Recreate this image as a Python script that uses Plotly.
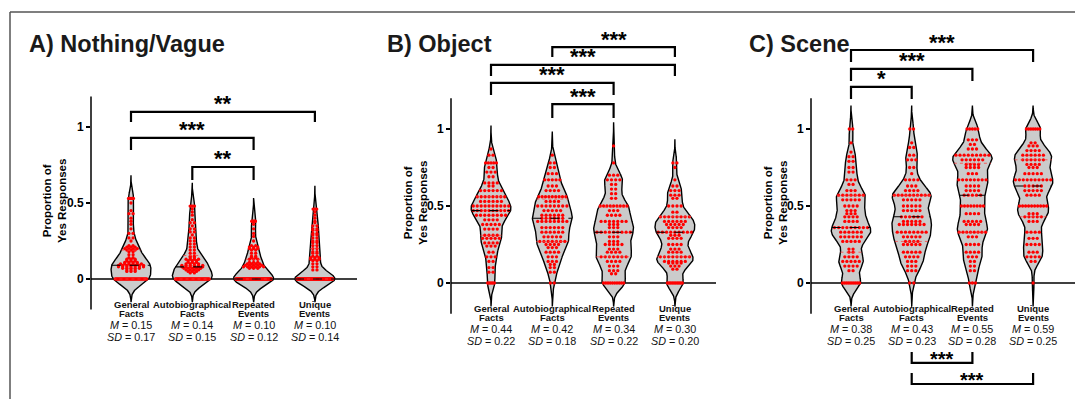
import numpy as np
import plotly.graph_objects as go

# ---------------- data ----------------
category_names = ["General Facts", "Autobiographical Facts", "Repeated Events", "Unique Events"]
panel_titles = ["A) Nothing/Vague", "B) Object", "C) Scene"]

nothing_means = ["0.15", "0.14", "0.10", "0.10"]
nothing_sds = ["0.17", "0.15", "0.12", "0.14"]
object_means = ["0.44", "0.42", "0.34", "0.30"]
object_sds = ["0.22", "0.18", "0.22", "0.20"]
scene_means = ["0.38", "0.43", "0.55", "0.59"]
scene_sds = ["0.25", "0.23", "0.28", "0.25"]

# proportion of yes responses -> number of participants
nothing_general = {0: 32, 0.05: 3, 0.06: 3, 0.07: 5, 0.08: 7, 0.09: 7, 0.1: 6, 0.11: 4, 0.12: 3, 0.13: 3,
                   0.14: 2, 0.16: 2, 0.18: 2, 0.19: 3, 0.2: 4, 0.21: 3, 0.22: 2, 0.25: 1, 0.27: 2, 0.3: 2,
                   0.33: 1, 0.36: 1, 0.38: 1, 0.4: 1, 0.43: 2, 0.45: 1, 0.5: 1, 0.53: 5}
nothing_autobio = {0: 40, 0.04: 2, 0.05: 3, 0.06: 4, 0.07: 5, 0.08: 6, 0.09: 6, 0.1: 4, 0.11: 3, 0.12: 3,
                   0.13: 4, 0.14: 2, 0.15: 2, 0.17: 2, 0.19: 2, 0.21: 2, 0.23: 2, 0.25: 2, 0.27: 2, 0.29: 1,
                   0.31: 2, 0.33: 2, 0.35: 1, 0.37: 2, 0.39: 1, 0.42: 1, 0.44: 1, 0.46: 1, 0.48: 4}
nothing_repeated = {0: 60, 0.07: 3, 0.08: 6, 0.09: 5, 0.1: 4, 0.11: 3, 0.13: 3, 0.14: 2, 0.15: 2, 0.17: 2,
                    0.19: 2, 0.2: 3, 0.21: 3, 0.22: 2, 0.25: 1, 0.28: 1, 0.3: 1, 0.33: 1, 0.36: 1, 0.38: 5}
nothing_unique = {0: 62, 0.06: 2, 0.08: 2, 0.1: 2, 0.12: 2, 0.13: 3, 0.14: 3, 0.15: 2, 0.17: 2, 0.18: 2,
                  0.2: 2, 0.22: 2, 0.24: 2, 0.25: 2, 0.27: 2, 0.29: 2, 0.3: 2, 0.32: 2, 0.33: 2, 0.35: 2,
                  0.37: 1, 0.38: 1, 0.4: 1, 0.42: 1, 0.44: 1, 0.46: 4}

object_general = {0: 5, 0.07: 2, 0.1: 2, 0.14: 2, 0.17: 3, 0.2: 2, 0.24: 3, 0.26: 4, 0.29: 5, 0.31: 4,
                  0.35: 4, 0.38: 5, 0.41: 4, 0.44: 8, 0.47: 10, 0.5: 10, 0.53: 6, 0.56: 8, 0.6: 6, 0.63: 2,
                  0.65: 4, 0.69: 2, 0.72: 3, 0.75: 2, 0.78: 5, 0.83: 2, 0.87: 1}
object_autobio = {0: 2, 0.07: 2, 0.1: 2, 0.12: 2, 0.14: 3, 0.17: 3, 0.2: 4, 0.23: 3, 0.25: 4, 0.27: 7,
                  0.3: 5, 0.33: 6, 0.36: 6, 0.4: 8, 0.42: 6, 0.44: 6, 0.47: 5, 0.5: 8, 0.53: 4, 0.56: 9,
                  0.6: 4, 0.63: 3, 0.67: 5, 0.71: 3, 0.75: 2, 0.78: 2, 0.83: 1}
object_repeated = {0: 10, 0.06: 2, 0.08: 3, 0.11: 3, 0.14: 4, 0.17: 7, 0.2: 4, 0.22: 3, 0.25: 5, 0.27: 3,
                   0.3: 3, 0.33: 9, 0.36: 3, 0.38: 3, 0.4: 7, 0.44: 4, 0.47: 3, 0.5: 9, 0.55: 2, 0.58: 2,
                   0.61: 2, 0.64: 2, 0.67: 4, 0.7: 3, 0.78: 1, 0.89: 1}
object_unique = {0: 10, 0.09: 2, 0.11: 3, 0.13: 4, 0.14: 6, 0.17: 8, 0.2: 4, 0.22: 3, 0.25: 4, 0.29: 4,
                 0.31: 3, 0.33: 9, 0.36: 4, 0.38: 5, 0.4: 6, 0.43: 8, 0.46: 2, 0.5: 4, 0.55: 2, 0.57: 3,
                 0.6: 3, 0.63: 2, 0.67: 1, 0.75: 1, 0.78: 2}

scene_general = {0: 10, 0.08: 2, 0.11: 4, 0.14: 5, 0.17: 4, 0.2: 2, 0.22: 2, 0.27: 5, 0.3: 6, 0.33: 6,
                 0.36: 9, 0.4: 4, 0.43: 4, 0.45: 3, 0.47: 3, 0.5: 4, 0.54: 5, 0.57: 7, 0.6: 3, 0.64: 2,
                 0.67: 3, 0.72: 2, 0.75: 2, 0.79: 2, 0.82: 2, 0.85: 1, 0.91: 1, 1.0: 2}
scene_autobio = {0: 2, 0.08: 3, 0.11: 3, 0.14: 3, 0.17: 4, 0.2: 5, 0.25: 5, 0.27: 4, 0.3: 5, 0.33: 8,
                 0.38: 7, 0.4: 5, 0.43: 6, 0.47: 5, 0.5: 5, 0.54: 5, 0.57: 10, 0.6: 4, 0.63: 3, 0.67: 4,
                 0.71: 1, 0.75: 2, 0.8: 3, 0.83: 2, 0.88: 2, 0.91: 1, 1.0: 2}
scene_repeated = {0: 3, 0.08: 2, 0.11: 2, 0.14: 2, 0.17: 3, 0.2: 4, 0.25: 4, 0.3: 3, 0.33: 8, 0.38: 4,
                  0.4: 5, 0.45: 4, 0.5: 8, 0.57: 5, 0.6: 4, 0.63: 4, 0.67: 8, 0.71: 3, 0.75: 4, 0.77: 4,
                  0.8: 6, 0.83: 9, 0.87: 3, 0.9: 2, 0.93: 3, 1.0: 5}
scene_unique = {0: 1, 0.14: 2, 0.17: 4, 0.2: 3, 0.25: 4, 0.29: 3, 0.33: 4, 0.4: 3, 0.43: 5, 0.45: 3,
                0.5: 10, 0.57: 4, 0.6: 5, 0.63: 5, 0.67: 10, 0.71: 5, 0.75: 3, 0.77: 4, 0.8: 6, 0.83: 6,
                0.86: 4, 0.89: 3, 0.91: 2, 1.0: 7}

# significance comparisons (category index pairs)
nothing_sig = [(0, 3, "**"), (0, 2, "***"), (1, 2, "**")]
object_sig = [(1, 3, "***"), (0, 3, "***"), (0, 2, "***"), (1, 2, "***")]
scene_sig = [(0, 3, "***"), (0, 2, "***"), (0, 1, "*"), (1, 2, "***"), (1, 3, "***")]

# ---------------- layout config ----------------
VW, VH = 1083, 399          # browser viewport
OFF = 8                     # page body margin
WF, HF = VW - OFF, VH - OFF # figure size so it fits the viewport
FONT = "Arial, 'Liberation Sans', Helvetica, sans-serif"
BW = 0.045          # KDE bandwidth
HALF = 0.325        # max violin half width (category units)
DX = 0.068          # dot spacing (category units)
VIOLIN_FILL = "#cbcbcb"
DOT = "#ff0000"


def pxx(x):
    return (x - OFF) / WF


def pxy(y):
    return 1 - (y - OFF) / HF


panels = [
    dict(groups=[nothing_general, nothing_autobio, nothing_repeated, nothing_unique],
         means=nothing_means, sds=nothing_sds, sig=nothing_sig,
         levels=[(1.099, 1.033), (0.928, 0.849), (0.737, 0.651)],
         x_axis=91, x_end=357, x_first=131, step=61.3, y_zero=279, px_unit=152,
         title_x=27, title_y=44, ytitle_x=55, ytitle_y=201),
    dict(groups=[object_general, object_autobio, object_repeated, object_unique],
         means=object_means, sds=object_sds, sig=object_sig,
         levels=[(1.532, 1.468), (1.416, 1.344), (1.299, 1.221), (1.162, 1.071)],
         x_axis=451, x_end=716, x_first=491, step=61.3, y_zero=283, px_unit=154,
         title_x=385, title_y=44, ytitle_x=415, ytitle_y=203),
    dict(groups=[scene_general, scene_autobio, scene_repeated, scene_unique],
         means=scene_means, sds=scene_sds, sig=scene_sig,
         levels=[(1.513, 1.435), (1.39, 1.312), (1.273, 1.195), (-0.519, -0.448), (-0.656, -0.584)],
         x_axis=811, x_end=1076, x_first=851, step=60.7, y_zero=283, px_unit=154,
         title_x=747, title_y=44, ytitle_x=775, ytitle_y=203),
]


def kde(values, grid):
    return np.exp(-0.5 * ((grid[:, None] - values[None, :]) / BW) ** 2).sum(axis=1)


fig = go.Figure()
annotations = []
shapes = []
layout_axes = {}

for p, P in enumerate(panels):
    sfx = "" if p == 0 else str(p + 1)
    xa, ya = "x" + sfx, "y" + sfx
    x_lo = (P["x_axis"] - P["x_first"]) / P["step"]
    x_hi = (P["x_end"] - P["x_first"]) / P["step"]
    y_lo = (P["y_zero"] - VH) / P["px_unit"]
    y_hi = (P["y_zero"] - OFF) / P["px_unit"]

    # violins
    info = []
    for i, grp in enumerate(P["groups"]):
        keys = np.array(list(grp.keys()), dtype=float)
        cnts = np.array(list(grp.values()), dtype=int)
        vals = np.repeat(keys, cnts)
        grid = np.linspace(vals.min() - 3.4 * BW, vals.max() + 3.4 * BW, 500)
        dens = kde(vals, grid)
        half = dens / dens.max() * HALF
        info.append((keys, cnts, vals, grid, half))
        fig.add_trace(go.Scatter(
            x=np.concatenate([i + half, (i - half)[::-1], [i + half[0]]]),
            y=np.concatenate([grid, grid[::-1], [grid[0]]]),
            mode="lines", fill="toself", fillcolor=VIOLIN_FILL,
            line=dict(color="black", width=1.4), xaxis=xa, yaxis=ya,
            hoverinfo="skip", showlegend=False))

    # zero line (x axis)
    fig.add_trace(go.Scatter(x=[x_lo, x_hi], y=[0, 0], mode="lines",
                             line=dict(color="black", width=1.5), xaxis=xa, yaxis=ya,
                             hoverinfo="skip", showlegend=False))

    # dots and quartile lines
    for i, (keys, cnts, vals, grid, half) in enumerate(info):
        dx, dy = [], []
        for k, n in zip(keys, cnts):
            w = np.interp(k, grid, half)
            sp = DX if n <= 1 else min(DX, 2 * w * 0.9 / (n - 1))
            offs = (np.arange(n) - (n - 1) / 2) * sp
            dx.extend(i + offs)
            dy.extend([k] * n)
        fig.add_trace(go.Scatter(x=dx, y=dy, mode="markers",
                                 marker=dict(color=DOT, size=3.3, line=dict(width=0)),
                                 xaxis=xa, yaxis=ya, hoverinfo="skip", showlegend=False))
        q1, med, q3 = np.percentile(vals, [25, 50, 75])
        for q, col, dash, lw in [(q1, "rgba(255,60,60,0.75)", "dot", 1.0),
                                 (q3, "rgba(255,60,60,0.75)", "dot", 1.0),
                                 (med, "black", "dash", 1.1)]:
            w = np.interp(q, grid, half)
            fig.add_trace(go.Scatter(x=[i - w, i + w], y=[q, q], mode="lines",
                                     line=dict(color=col, width=lw, dash=dash),
                                     xaxis=xa, yaxis=ya, hoverinfo="skip", showlegend=False))

    # significance brackets
    for (a, b, stars), (ytop, yleg) in zip(P["sig"], P["levels"]):
        fig.add_trace(go.Scatter(x=[a, a, b, b], y=[yleg, ytop, ytop, yleg], mode="lines",
                                 line=dict(color="black", width=2.2),
                                 xaxis=xa, yaxis=ya, hoverinfo="skip", showlegend=False))
        below = ytop < 0
        annotations.append(dict(x=(a + b) / 2, y=ytop, xref=xa, yref=ya, text="<b>" + stars + "</b>",
                                showarrow=False, yanchor="middle", xanchor="center",
                                yshift=4 if below else 8,
                                font=dict(family=FONT, size=20 if below else 22, color="black")))

    # y axis line
    shapes.append(dict(type="line", xref="paper", yref=ya, x0=pxx(P["x_axis"]), x1=pxx(P["x_axis"]),
                       y0=-0.2, y1=1.2, line=dict(color="black", width=1.5)))

    layout_axes["xaxis" + sfx] = dict(domain=[pxx(P["x_axis"]), pxx(P["x_end"])], range=[x_lo, x_hi],
                                      visible=False, anchor=ya)
    layout_axes["yaxis" + sfx] = dict(domain=[0, 1], range=[y_lo, y_hi], anchor=xa,
                                      showgrid=False, zeroline=False, showline=False,
                                      ticks="outside", ticklen=4, tickwidth=1.5, tickcolor="black",
                                      tickvals=[0, 0.5, 1], ticktext=["0", "0.5", "1"],
                                      tickfont=dict(family=FONT, size=12, color="black", weight="bold"))

    # category labels with M and SD
    for i, name in enumerate(category_names):
        first, second = name.split(" ", 1)
        xpx = P["x_first"] + i * P["step"]
        for off, txt, bold in [(25, first, True), (34.5, second, True),
                               (46, "<i>M</i> = " + P["means"][i], False),
                               (57.5, "<i>SD</i> = " + P["sds"][i], False)]:
            annotations.append(dict(x=pxx(xpx), y=pxy(P["y_zero"] + off), xref="paper", yref="paper",
                                    text=("<b>%s</b>" % txt) if bold else txt, showarrow=False,
                                    xanchor="center", yanchor="middle",
                                    font=dict(family=FONT, size=9.5 if bold else 10.8, color="#111")))

    # panel title
    annotations.append(dict(x=pxx(P["title_x"]), y=pxy(P["title_y"]), xref="paper", yref="paper",
                            text="<b>%s</b>" % panel_titles[p], showarrow=False,
                            xanchor="left", yanchor="middle",
                            font=dict(family=FONT, size=23.5, color="#1a1a1a")))
    # y axis title
    annotations.append(dict(x=pxx(P["ytitle_x"]), y=pxy(P["ytitle_y"]), xref="paper", yref="paper",
                            text="<b>Proportion of</b><br><b>Yes Responses</b>", showarrow=False,
                            textangle=-90, xanchor="center", yanchor="middle",
                            font=dict(family=FONT, size=11.5, color="black")))

# outer frame (top and left edges)
shapes.append(dict(type="line", xref="paper", yref="paper", x0=pxx(10), x1=1, y0=pxy(12), y1=pxy(12),
                   line=dict(color="#555", width=1.5)))
shapes.append(dict(type="line", xref="paper", yref="paper", x0=pxx(10), x1=pxx(10), y0=pxy(12), y1=0,
                   line=dict(color="#555", width=1.5)))

fig.update_layout(width=WF, height=HF, margin=dict(l=0, r=0, t=0, b=0),
                  paper_bgcolor="white", plot_bgcolor="rgba(0,0,0,0)",
                  showlegend=False, annotations=annotations, shapes=shapes, **layout_axes)

fig.write_html("out.html")
